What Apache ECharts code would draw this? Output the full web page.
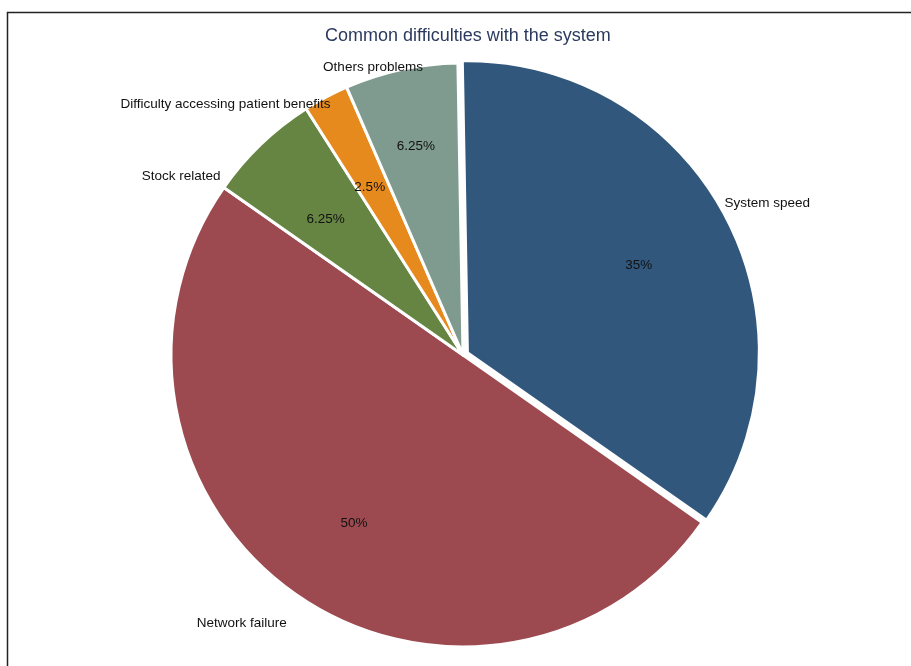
<!DOCTYPE html>
<html>
<head>
<meta charset="utf-8">
<script src="https://cdn.jsdelivr.net/npm/echarts@6/dist/echarts.min.js"></script>
<style>
  html, body { margin: 0; padding: 0; background: #fff; }
  #chart { width: 911px; height: 666px; }
</style>
</head>
<body>
<div id="chart"></div>
<script>
// Survey responses: share of each reported difficulty (percent)
const categories = [
  'System speed',
  'Network failure',
  'Stock related',
  'Difficulty accessing patient benefits',
  'Others problems'
];
const shares = [35, 50, 6.25, 2.5, 6.25];

// Slice colours, in category order
const sliceColors = ['#31587C', '#9C4A50', '#668543', '#E68A1D', '#7F9A8F'];

// Extra nudges for the crowded labels (px)
const nameNudge = [[-4, 12], [-24, -14], [-44, 70], [-76, 53], [-17, 48]];
const percentNudge = [[-4, 6], [5, 6], [0, 8], [0, 8], [-5, -15]];

const center = [463, 355];
const R = 292;
const startAngle = 91;
const FONT = '"Liberation Sans", Arial, sans-serif';

function items(withColor) {
  return categories.map((name, i) => ({
    name: name,
    value: shares[i],
    selected: i === 0,
    itemStyle: withColor
      ? { color: sliceColors[i], borderColor: '#fff', borderWidth: 3 }
      : { color: 'rgba(0,0,0,0)', borderWidth: 0 }
  }));
}

const common = {
  type: 'pie',
  center: center,
  startAngle: startAngle,
  clockwise: true,
  selectedMode: 'multiple',
  selectedOffset: 5,
  animation: false,
  avoidLabelOverlap: false,
  labelLine: { show: false },
  emphasis: { disabled: true }
};

const labelText = { fontFamily: FONT, fontSize: 13.5, color: '#111' };

const chart = echarts.init(document.getElementById('chart'), null, { renderer: 'canvas' });
chart.setOption({
  backgroundColor: '#fff',
  title: {
    text: 'Common difficulties with the system',
    left: 320,
    top: 22,
    textStyle: { fontFamily: FONT, fontSize: 18, fontWeight: 'normal', color: '#2B3A5E' }
  },
  graphic: [{
    type: 'rect',
    shape: { x: 7.5, y: 12.5, width: 1000, height: 1000 },
    style: { fill: 'none', stroke: '#222', lineWidth: 1.5 },
    silent: true,
    z: -1
  }],
  series: [
    Object.assign({}, common, {
      name: 'slices',
      radius: [0, R],
      data: items(true),
      label: { show: false }
    }),
    // percentage labels, placed at about two thirds of the radius
    Object.assign({}, common, {
      name: 'percent',
      silent: true,
      radius: [R * 0.58, R * 0.76],
      data: items(false),
      label: Object.assign({
        show: true,
        position: 'inside',
        formatter: p => p.value + '%'
      }, labelText),
      labelLayout: p => ({ dx: percentNudge[p.dataIndex][0], dy: percentNudge[p.dataIndex][1] })
    }),
    // category names, outside the pie
    Object.assign({}, common, {
      name: 'names',
      silent: true,
      radius: [R + 39, R + 59],
      data: items(false),
      label: Object.assign({
        show: true,
        position: 'inside',
        formatter: p => p.name
      }, labelText),
      labelLayout: p => ({ dx: nameNudge[p.dataIndex][0], dy: nameNudge[p.dataIndex][1] })
    })
  ]
});
</script>
</body>
</html>
